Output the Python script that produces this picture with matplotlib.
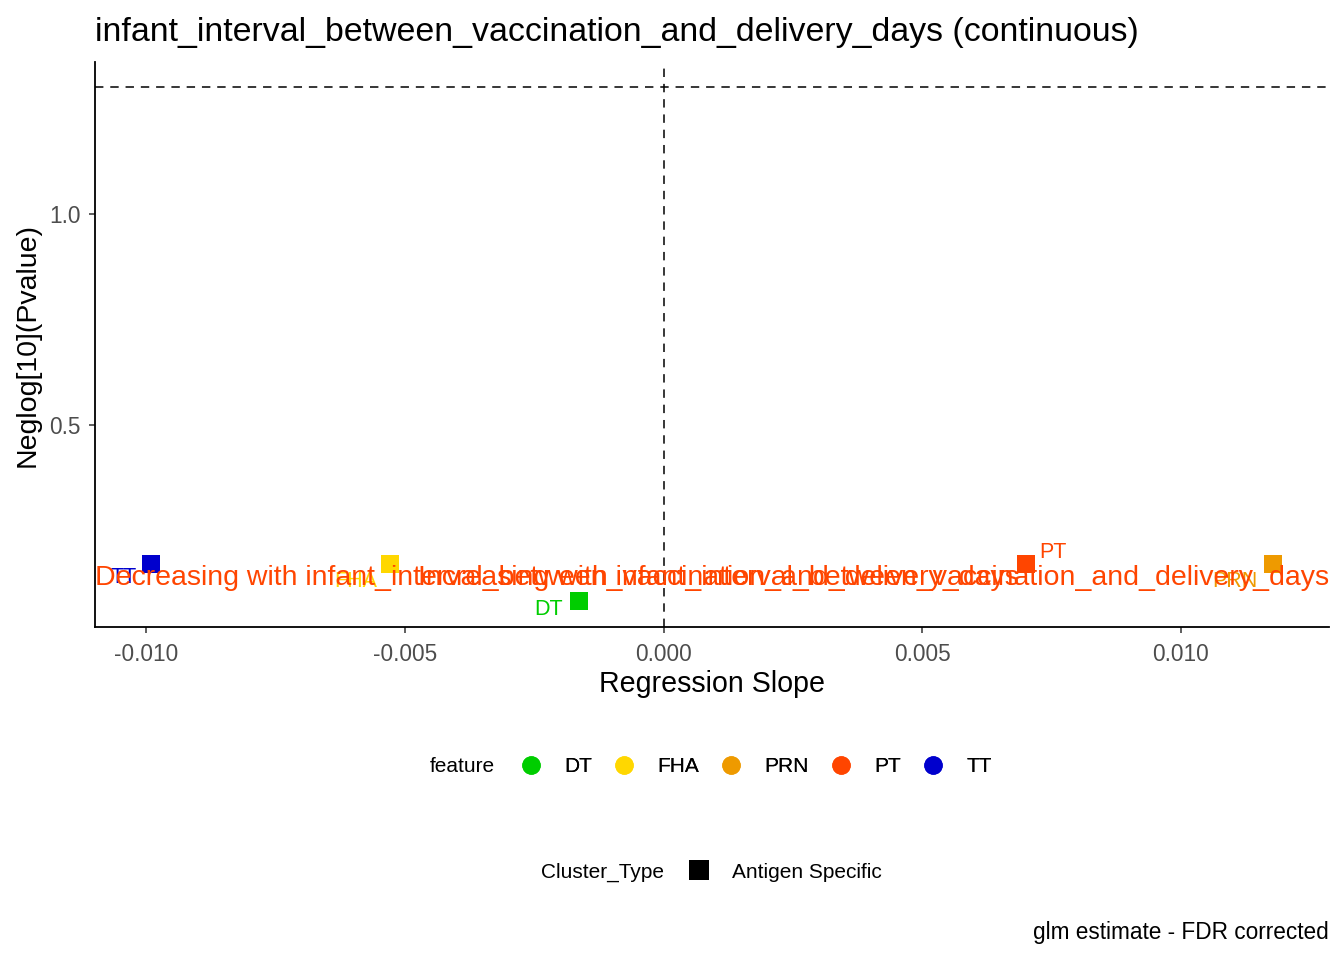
import matplotlib
matplotlib.use("Agg")
import matplotlib.pyplot as plt
from matplotlib.lines import Line2D

plt.rcParams['font.family'] = ['Liberation Sans', 'DejaVu Sans']

# ---- data ----
features = ['DT', 'FHA', 'PRN', 'PT', 'TT']
slopes = [-0.00164, -0.00528, 0.01177, 0.00700, -0.00991]
neglogp = [0.083, 0.171, 0.171, 0.171, 0.171]
colors = {'DT': '#00CD00', 'FHA': '#FFD700', 'PRN': '#EE9A00', 'PT': '#FF4500', 'TT': '#0000CD'}
x_ticks = [-0.010, -0.005, 0.000, 0.005, 0.010]
x_ticklabels = ['-0.010', '-0.005', '0.000', '0.005', '0.010']
y_ticks = [0.5, 1.0]
y_ticklabels = ['0.5', '1.0']
sig_line = 1.30103
title = 'infant_interval_between_vaccination_and_delivery_days (continuous)'
dec_text = 'Decreasing with infant_interval_between_vaccination_and_delivery_days'
inc_text = 'Increasing with infant_interval_between_vaccination_and_delivery_days'
cluster_types = ['Antigen Specific']

# label offsets (points) mimicking ggrepel placement
label_offsets = {'DT': (-21.6, -5.8), 'FHA': (-25.2, -13.0), 'PRN': (-27.4, -13.0),
                 'PT': (19.4, 7.9), 'TT': (-19.4, -10.1)}

W, H = 1344, 960
fig = plt.figure(figsize=(W / 100, H / 100), dpi=100)
ax = fig.add_axes([95 / W, 1 - 627 / H, (1329 - 95) / W, (627 - 62) / H])

ax.set_xlim(-0.010986, 0.01286)
ax.set_ylim(0.0213, 1.360)

dash = (0, (5.5, 4.5))
ax.axhline(sig_line, color='black', lw=1.1, linestyle=dash, zorder=1)
ax.axvline(0, color='black', lw=1.1, linestyle=dash, zorder=1)

for f, xs, ys in zip(features, slopes, neglogp):
    ax.scatter([xs], [ys], marker='s', s=185, color=colors[f], linewidths=0, zorder=3)
    ax.annotate(f, (xs, ys), xytext=label_offsets[f], textcoords='offset points',
                ha='center', va='center', fontsize=15.5, color=colors[f], zorder=3.2)

trans = ax.get_yaxis_transform()
ax.text(0, 0.1215, dec_text, transform=trans, ha='left', va='baseline',
        fontsize=20.5, color='#FF4500', zorder=3.5)
ax.text(1, 0.1215, inc_text, transform=trans, ha='right', va='baseline',
        fontsize=20.5, color='#FF4500', zorder=3.5)

for s in ['top', 'right']:
    ax.spines[s].set_visible(False)
for s in ['left', 'bottom']:
    ax.spines[s].set_linewidth(1.3)
    ax.spines[s].set_color('black')

ax.set_xticks(x_ticks)
ax.set_xticklabels(x_ticklabels)
ax.set_yticks(y_ticks)
ax.set_yticklabels(y_ticklabels)
ax.tick_params(axis='both', colors='#333333', labelcolor='#4D4D4D', labelsize=16.3,
               length=4, width=1.1)
ax.tick_params(axis='x', pad=7.5)
ax.tick_params(axis='y', pad=6)

fig.text(712 / W, 1 - 684 / H, 'Regression Slope', ha='center', va='center', fontsize=20.6)
fig.text(28 / W, 1 - 345 / H, 'Neglog[10](Pvalue)', ha='center', va='center',
         rotation=90, fontsize=20.5)
fig.text(95 / W, 1 - 32 / H, title, ha='left', va='center', fontsize=24.4)

# feature legend
fs_leg = 15.0
fig.text(430 / W, 1 - 767 / H, 'feature', ha='left', va='center', fontsize=fs_leg)
handles = [Line2D([], [], marker='o', linestyle='none', markersize=13.3,
                  markerfacecolor=colors[f], markeredgewidth=0) for f in features]
leg1 = fig.legend(handles, features, loc='center left',
                  bbox_to_anchor=((531 - 10.4) / W, 1 - 767 / H), ncol=5, frameon=False,
                  fontsize=fs_leg, handlelength=1.0, handletextpad=1.08, columnspacing=1.06,
                  borderpad=0, borderaxespad=0)

# cluster type legend
fig.text(541 / W, 1 - 872 / H, 'Cluster_Type', ha='left', va='center', fontsize=fs_leg)
h2 = [Line2D([], [], marker='s', linestyle='none', markersize=13.7,
             markerfacecolor='black', markeredgewidth=0)]
leg2 = fig.legend(h2, cluster_types, loc='center left',
                  bbox_to_anchor=((698.5 - 10.4) / W, 1 - 872 / H), ncol=1, frameon=False,
                  fontsize=fs_leg, handlelength=1.0, handletextpad=1.1,
                  borderpad=0, borderaxespad=0)
fig.add_artist(leg1)

fig.text(1329 / W, 1 - 933 / H, 'glm estimate - FDR corrected', ha='right', va='center',
         fontsize=16.3)

fig.savefig('out.png', dpi=100)
